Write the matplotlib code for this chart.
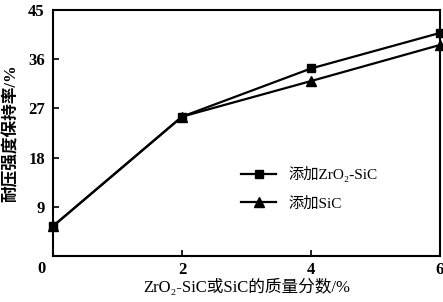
import matplotlib
matplotlib.use("Agg")
import matplotlib.pyplot as plt

plt.rcParams['font.family'] = ['Liberation Serif', 'Noto Sans CJK SC']

x = [0, 2, 4, 6]
zro2_sic = [5.5, 25.5, 34.3, 40.8]
sic = [5.5, 25.5, 32.0, 38.6]
xticks = [0, 2, 4, 6]
xticklabels = ['', '2', '4', '6']
yticks = [9, 18, 27, 36, 45]

fig = plt.figure(figsize=(4.43, 3.02), dpi=100)
ax = fig.add_axes([0.12, 0.152, 0.873, 0.815])

ax.plot(x, zro2_sic, color='black', lw=1.6, marker='s', ms=6, clip_on=False,
        label='添加ZrO₂-SiC')
ax.plot(x, sic, color='black', lw=1.6, marker='^', ms=7, clip_on=False,
        label='添加SiC')

ax.set_xlim(0, 6)
ax.set_ylim(0, 45)
ax.set_xticks(xticks)
ax.set_xticklabels(xticklabels)
ax.set_yticks(yticks)
ax.tick_params(direction='in', length=4, width=1.2, labelsize=12, pad=6)
ax.tick_params(axis='x', pad=4)
for lab in ax.get_xticklabels() + ax.get_yticklabels():
    lab.set_fontweight('bold')
for s in ax.spines.values():
    s.set_linewidth(1.5)

ax.text(-0.02, -0.02, '0', transform=ax.transAxes, ha='right', va='top',
        fontsize=12, fontweight='bold')

ax.set_xlabel('ZrO₂-SiC或SiC的质量分数/%', fontsize=12, labelpad=1)
ax.set_ylabel('耐压强度保持率/%', fontsize=12, fontweight='bold', labelpad=6)

leg = ax.legend(loc='lower left', bbox_to_anchor=(0.45, 0.13), frameon=False,
                fontsize=11, handlelength=2.3, labelspacing=0.9)

fig.savefig('out.png', dpi=100)
